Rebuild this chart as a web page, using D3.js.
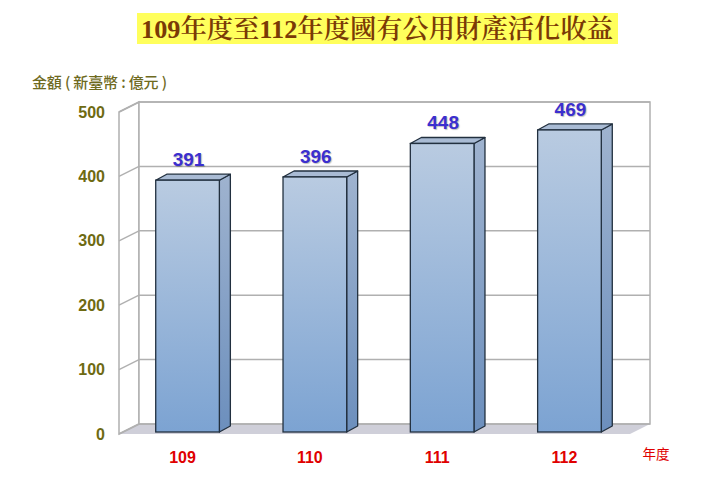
<!DOCTYPE html>
<html><head><meta charset="utf-8">
<script src="https://cdn.jsdelivr.net/npm/d3@7"></script>
<style>body{margin:0;background:#fff}svg{display:block}</style>
</head><body>
<script>
const categories = ["109","110","111","112"];
const values = [391, 396, 448, 469];
const yTicks = [0,100,200,300,400,500];
const titleText = "109年度至112年度國有公用財產活化收益";
const yTitle = "金額 ( 新臺幣 : 億元 )";
const xTitle = "年度";

const W = 722, H = 485;
const svg = d3.select("body").append("svg").attr("width", W).attr("height", H);
const defs = svg.append("defs");

const front = {x0:119, x1:630, y0:434, y1:112};
const depth = {dx:20, dy:-10};
const x = d3.scaleBand().domain(categories).range([front.x0, front.x1]).paddingInner(0.5).paddingOuter(0.257);
const y = d3.scaleLinear().domain([0,500]).range([front.y0, front.y1]);

// title
svg.append("rect").attr("x",137).attr("y",13).attr("width",481).attr("height",31).attr("fill","#ffff5c");
svg.append("text").attr("x",377).attr("y",38).attr("text-anchor","middle")
  .attr("font-family","'Liberation Serif','Noto Serif CJK TC','Noto Sans CJK TC',serif")
  .attr("font-size",26).attr("font-weight",600).attr("fill","#7a3a06")
  .attr("textLength",472).attr("lengthAdjust","spacingAndGlyphs").text(titleText);

// y title
svg.append("text").attr("x",32).attr("y",88).attr("font-family","'Noto Sans CJK TC',sans-serif")
  .attr("font-size",15).attr("font-weight",500).attr("fill","#6e6a1e")
  .attr("textLength",135).attr("lengthAdjust","spacing").text(yTitle);

const bx0 = front.x0 + depth.dx, bx1 = front.x1 + depth.dx;
// floor
svg.append("polygon").attr("points",[[front.x0,y(0)],[front.x1,y(0)],[bx1,y(0)+depth.dy],[bx0,y(0)+depth.dy]].map(p=>p.join(",")).join(" "))
  .attr("fill","#cfcfd9");
// left wall
svg.append("polygon").attr("points",[[front.x0,y(0)],[front.x0,y(500)],[bx0,y(500)+depth.dy],[bx0,y(0)+depth.dy]].map(p=>p.join(",")).join(" "))
  .attr("fill","#fff").attr("stroke","#b0b0b0").attr("stroke-width",1.5);
// back wall
svg.append("rect").attr("x",bx0).attr("y",y(500)+depth.dy).attr("width",bx1-bx0).attr("height",y(0)-y(500))
  .attr("fill","#fff").attr("stroke","#b0b0b0").attr("stroke-width",1.5);
// gridlines
yTicks.forEach(t=>{
  svg.append("line").attr("x1",bx0).attr("x2",bx1).attr("y1",y(t)+depth.dy).attr("y2",y(t)+depth.dy)
    .attr("stroke","#b0b0b0").attr("stroke-width",1.5);
  svg.append("line").attr("x1",front.x0).attr("x2",bx0).attr("y1",y(t)).attr("y2",y(t)+depth.dy)
    .attr("stroke","#b0b0b0").attr("stroke-width",1.5);
});

// y tick labels
svg.append("g").selectAll("text").data(yTicks).join("text")
  .attr("x",105).attr("y",d=>y(d)+5.5).attr("text-anchor","end")
  .attr("font-family","'Liberation Sans',Arial,sans-serif").attr("font-weight","bold").attr("font-size",16)
  .attr("fill","#6e6a12").text(d=>d);

// bars gradient
const gF = defs.append("linearGradient").attr("id","gf").attr("x1",0).attr("y1",0).attr("x2",0).attr("y2",1);
gF.append("stop").attr("offset","0%").attr("stop-color","#b9cbe1");
gF.append("stop").attr("offset","100%").attr("stop-color","#7ca3d2");
const gS = defs.append("linearGradient").attr("id","gs").attr("x1",0).attr("y1",0).attr("x2",0).attr("y2",1);
gS.append("stop").attr("offset","0%").attr("stop-color","#9fb3cf");
gS.append("stop").attr("offset","100%").attr("stop-color","#6c8fbd");

const bOff = {dx:4, dy:-2}, bDep = {dx:11, dy:-6};
const bars = svg.append("g").selectAll("g").data(categories.map((c,i)=>({c,v:values[i]}))).join("g");
bars.each(function(d){
  const g = d3.select(this);
  const xl = x(d.c)+bOff.dx, xr = xl + x.bandwidth();
  const yb = y(0)+bOff.dy, yt = y(d.v)+bOff.dy;
  const pts = a=>a.map(p=>p.join(",")).join(" ");
  g.append("polygon").attr("points",pts([[xr,yb],[xr,yt],[xr+bDep.dx,yt+bDep.dy],[xr+bDep.dx,yb+bDep.dy]]))
    .attr("fill","url(#gs)").attr("stroke","#22303f").attr("stroke-width",1.3).attr("stroke-linejoin","round");
  g.append("polygon").attr("points",pts([[xl,yt],[xr,yt],[xr+bDep.dx,yt+bDep.dy],[xl+bDep.dx,yt+bDep.dy]]))
    .attr("fill","#a9bbd4").attr("stroke","#22303f").attr("stroke-width",1.3).attr("stroke-linejoin","round");
  g.append("rect").attr("x",xl).attr("y",yt).attr("width",xr-xl).attr("height",yb-yt)
    .attr("fill","url(#gf)").attr("stroke","#22303f").attr("stroke-width",1.3);
  g.append("text").attr("x",(xl+xr)/2+1).attr("y",yt-14).attr("text-anchor","middle")
    .attr("font-family","'Liberation Sans',Arial,sans-serif").attr("font-weight","bold").attr("font-size",19)
    .attr("fill","#3b2fcf").style("text-shadow","1px 1px 1px rgba(0,0,0,0.25)").text(d.v);
});

// x labels
svg.append("g").selectAll("text").data(categories).join("text")
  .attr("x",d=>x(d)+x.bandwidth()/2-1).attr("y",463).attr("text-anchor","middle")
  .attr("font-family","'Liberation Sans',Arial,sans-serif").attr("font-weight","bold").attr("font-size",16)
  .attr("fill","#e00000").text(d=>d);
svg.append("text").attr("x",656).attr("y",459).attr("text-anchor","middle")
  .attr("font-family","'Noto Sans CJK TC',sans-serif").attr("font-size",13.5).attr("fill","#e00000").text(xTitle);
</script>
</body></html>
